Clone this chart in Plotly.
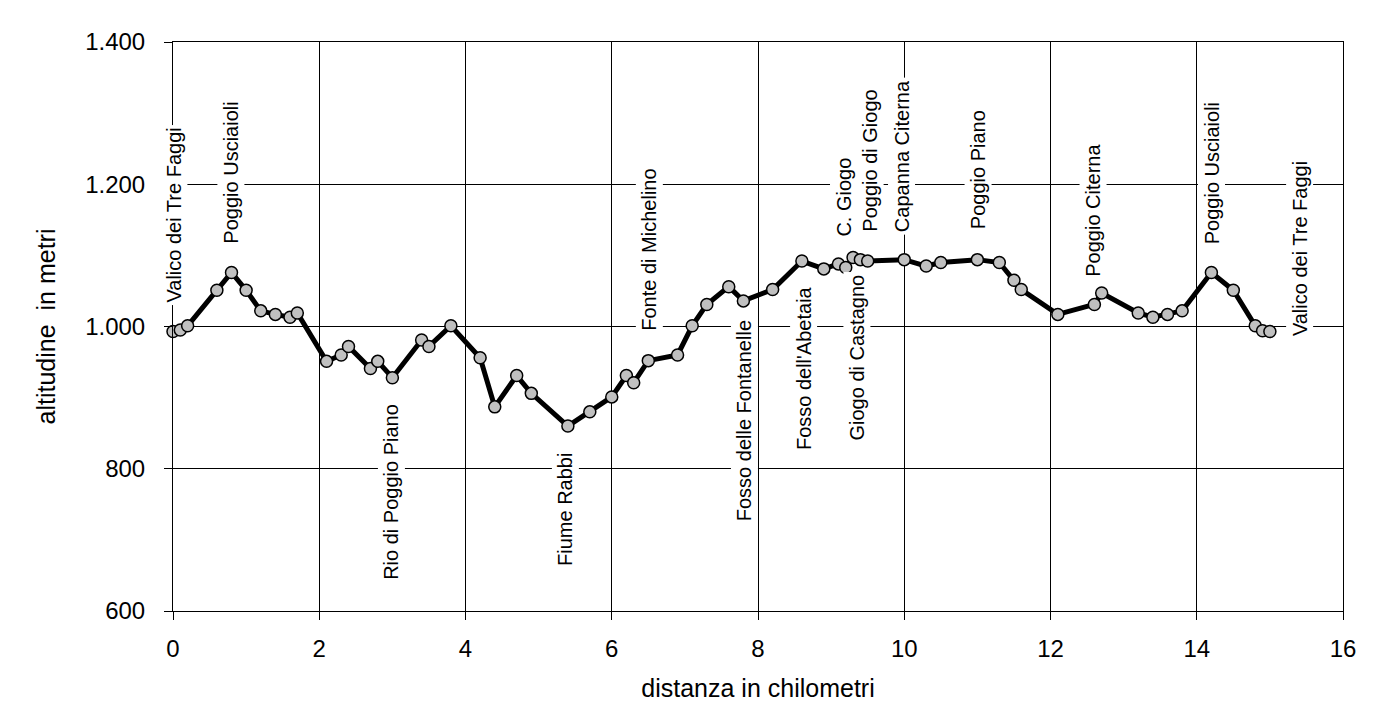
import plotly.graph_objects as go

# elevation profile (km, m)
distanza_km = [0.0, 0.1, 0.2, 0.6, 0.8, 1.0, 1.2, 1.4, 1.6, 1.7,
               2.1, 2.3, 2.4, 2.7, 2.8, 3.0, 3.4, 3.5, 3.8, 4.2,
               4.4, 4.7, 4.9, 5.4, 5.7, 6.0, 6.2, 6.3, 6.5, 6.9,
               7.1, 7.3, 7.6, 7.8, 8.2, 8.6, 8.9, 9.1, 9.2, 9.3,
               9.4, 9.5, 10.0, 10.3, 10.5, 11.0, 11.3, 11.5, 11.6, 12.1,
               12.6, 12.7, 13.2, 13.4, 13.6, 13.8, 14.2, 14.5, 14.8, 14.9,
               15.0]
altitudine_m = [993, 995, 1001, 1051, 1076, 1051, 1022, 1017, 1013, 1019,
                951, 960, 972, 941, 951, 928, 981, 972, 1001, 956,
                887, 931, 906, 860, 880, 901, 931, 921, 952, 960,
                1001, 1031, 1056, 1036, 1052, 1092, 1081, 1088, 1083, 1097,
                1094, 1092, 1094, 1085, 1090, 1094, 1090, 1065, 1052, 1017,
                1031, 1047, 1019, 1013, 1017, 1022, 1076, 1051, 1001, 994,
                993]

# place names, drawn as vertical text boxes (x in km, y in m)
luoghi = ["Valico dei Tre Faggi", "Poggio Usciaioli", "Rio di Poggio Piano",
          "Fiume Rabbi", "Fonte di Michelino", "Fosso delle Fontanelle",
          "Fosso dell'Abetaia", "Giogo di Castagno", "Poggio di Giogo",
          "C. Giogo", "Capanna Citerna", "Poggio Piano", "Poggio Citerna",
          "Poggio Usciaioli", "Valico dei Tre Faggi"]
luoghi_x = [0.01, 0.79, 2.99, 5.37, 6.51, 7.82, 8.62, 9.35, 9.53,
            9.17, 9.96, 11.01, 12.58, 14.2, 15.41]
luoghi_y = [1157, 1216, 767, 743, 1108, 868, 942, 956, 1233,
            1182, 1240, 1220, 1164, 1216, 1110]

FONT = "Arial, Liberation Sans, sans-serif"

fig = go.Figure()
fig.add_trace(go.Scatter(
    x=distanza_km, y=altitudine_m, mode="lines+markers", cliponaxis=False,
    line=dict(color="black", width=5),
    marker=dict(size=12, color="#c0c0c0", line=dict(color="black", width=1.5)),
    showlegend=False, hoverinfo="x+y"))

for name, lx, ly in zip(luoghi, luoghi_x, luoghi_y):
    fig.add_annotation(x=lx, y=ly, text=name, textangle=-90, showarrow=False,
                       xanchor="center", yanchor="middle", bgcolor="white",
                       borderpad=2, font=dict(family=FONT, size=20, color="black"))

axis_common = dict(showgrid=True, gridcolor="black", gridwidth=1,
                   showline=True, linecolor="black", linewidth=1,
                   ticks="outside", ticklen=8, tickcolor="black", tickwidth=1,
                   zeroline=False, tickfont=dict(family=FONT, size=24, color="black"))

fig.update_xaxes(range=[0, 16], dtick=2, tick0=0, mirror=True,
                 title=dict(text="distanza in chilometri", standoff=18,
                            font=dict(family=FONT, size=25, color="black")),
                 ticklabelstandoff=8, **axis_common)
fig.update_yaxes(range=[600, 1400], dtick=200, tick0=600, mirror=True,
                 separatethousands=True, tickformat=",d",
                 title=dict(text="altitudine  in metri", standoff=22,
                            font=dict(family=FONT, size=25, color="black")),
                 ticklabelstandoff=14, **axis_common)

# page body adds an 8px offset, so left/top margins are reduced by 8
fig.update_layout(width=1385, height=726, separators=",.",
                  plot_bgcolor="white", paper_bgcolor="white",
                  margin=dict(l=165, r=50, t=34, b=123, autoexpand=False),
                  font=dict(family=FONT, color="black"))

fig.write_html("out.html")
